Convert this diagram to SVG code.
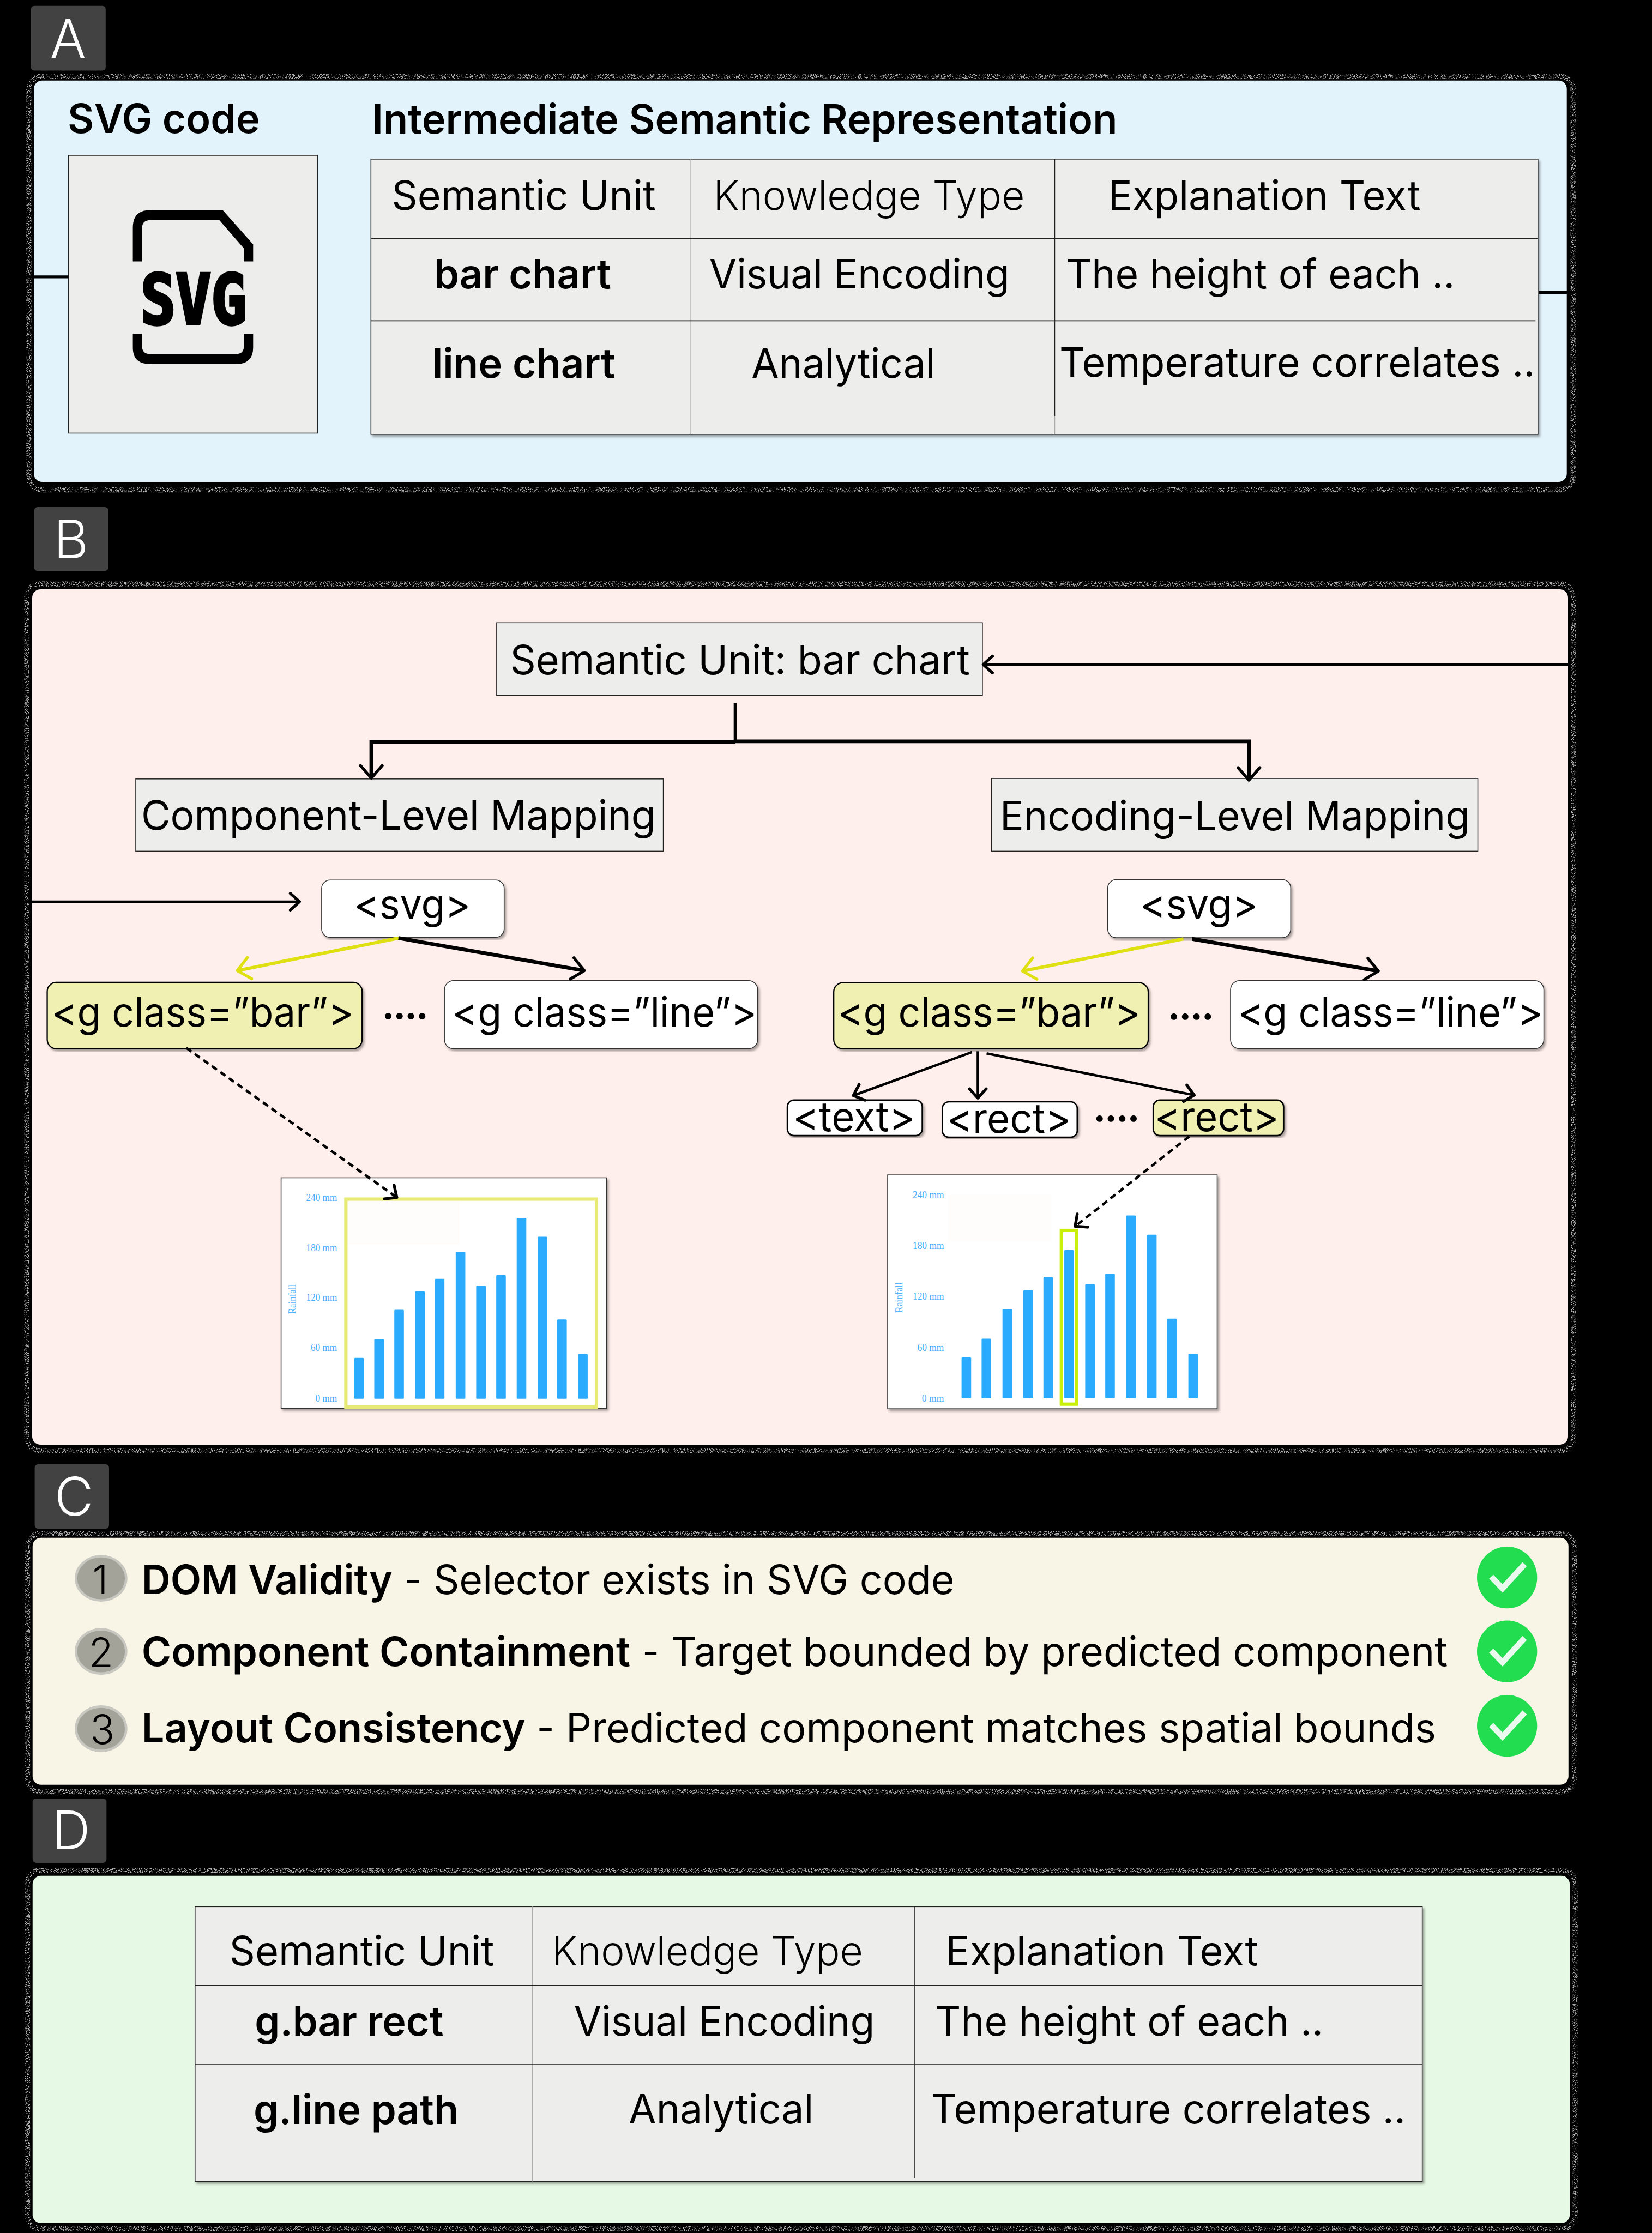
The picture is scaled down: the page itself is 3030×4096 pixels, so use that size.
<svg xmlns="http://www.w3.org/2000/svg" width="3030" height="4096" viewBox="0 0 3030 4096">
<style>
text{font-family:"Inter","Liberation Sans",sans-serif;fill:#000;font-size:97px}
.b{font-weight:600}
.l{font-weight:300}
.tag{fill:#424242}
.tagt{fill:#fff;font-size:128px;font-weight:300;text-anchor:middle}
.noise{fill:none;stroke:#aaa;stroke-width:12;filter:url(#nf)}
.box{fill:#EDEDEB;stroke:#222;stroke-width:2}
.cell{stroke:#222;stroke-width:2;fill:none}
.cellg{stroke:#aaa;stroke-width:2;fill:none}
.wn{fill:#fff;stroke:#333;stroke-width:2}
.yn{fill:#F1F0B3;stroke:#000;stroke-width:3}
.wb{fill:#fff;stroke:#000;stroke-width:3.5}
.shadow{filter:url(#sh)}
.ax{font-family:"Liberation Serif",serif;font-size:25px;fill:#45ADFF;text-anchor:end}
.rf{font-family:"Liberation Serif",serif;font-size:24px;fill:#55B4FF}
.bar{fill:#2BABFE}
.c{fill:none;stroke:#000;stroke-width:7}
.t9{stroke-width:9}
.t6{stroke-width:6}
.dash{stroke-width:6;stroke-dasharray:15 10}
.ya{fill:none;stroke:#DFE012;stroke-width:8}
.dots{font-size:92px;font-weight:700}
.num{fill:#A4A39A;stroke:#C8C7C0;stroke-width:6}
.numt{font-weight:300;text-anchor:middle}
.ok{fill:#22DD4F}
.chk{fill:none;stroke:#EAF9EE;stroke-width:14}
.m{fill:none;stroke:#000;stroke-width:7;stroke-linecap:round;stroke-linejoin:round}
</style>
<defs>
<filter id="nf" color-interpolation-filters="sRGB"><feTurbulence type="fractalNoise" baseFrequency="0.75" numOctaves="2" seed="4"/><feColorMatrix type="matrix" values="0 0 0 0 0.7 0 0 0 0 0.7 0 0 0 0 0.7 7 0 0 0 -3.6"/><feComposite in2="SourceAlpha" operator="in"/></filter>
<filter id="sh" x="-5%" y="-5%" width="110%" height="110%"><feDropShadow dx="4" dy="5" stdDeviation="3" flood-color="#000" flood-opacity="0.35"/></filter>
<marker id="big" markerUnits="userSpaceOnUse" markerWidth="80" markerHeight="80" viewBox="-70 -40 80 80" refX="0" refY="0" orient="auto"><path class="m" d="M-30,-26L0,0L-30,26"/></marker>
<marker id="small" markerUnits="userSpaceOnUse" markerWidth="80" markerHeight="80" viewBox="-70 -40 80 80" refX="0" refY="0" orient="auto"><path class="m" d="M-22,-20L0,0L-22,20"/></marker>
<marker id="yel" markerUnits="userSpaceOnUse" markerWidth="80" markerHeight="80" viewBox="-70 -40 80 80" refX="0" refY="0" orient="auto"><path class="m" style="stroke:#DFE012" d="M-30,-26L0,0L-30,26"/></marker>
</defs>
<rect width="3030" height="4096" fill="#000"/>
<g transform="scale(0.76612)">

<g id="panel-A">
<rect class="noise" x="69" y="183" width="3697" height="990" rx="30"/>
<rect x="81" y="193" width="3670" height="961" rx="20" fill="#E3F3FB"/>
<rect class="tag" x="74" y="14" width="179" height="155" rx="8"/>
<text class="tagt" x="163" y="138">A</text>
<text class="b" x="162" y="319" textLength="460" lengthAdjust="spacingAndGlyphs">SVG code</text>
<text class="b" x="891" y="320" textLength="1784" lengthAdjust="spacingAndGlyphs">Intermediate Semantic Representation</text>
</g>
<g id="svg-code">
<rect class="box" x="164" y="372" width="596" height="665"/>
<path d="M318,626V545Q318,503 360,503H533L606,585V626H584V595L525,527H360Q340,527 340,547V626Z"/>
<path d="M318,799V832Q318,872 360,872H564Q606,872 606,832V799H584V828Q584,848 564,848H360Q340,848 340,828V799Z"/>
<text x="336" y="775" style="font-family:'DejaVu Sans Mono',monospace;font-weight:700;font-size:166px;stroke:#000;stroke-width:7" textLength="254" lengthAdjust="spacingAndGlyphs">SVG</text>
</g>
<g id="table-A">
<rect class="box shadow" x="888" y="381" width="2794" height="659"/>
<path class="cellg" d="M1654,381V1040M2525,996V1040"/>
<path class="cell" d="M2525,381V996M888,571H3682M888,768H3676"/>
<text x="938" y="503" textLength="632" lengthAdjust="spacingAndGlyphs">Semantic Unit</text>
<text class="l" x="1708" y="503" textLength="745" lengthAdjust="spacingAndGlyphs">Knowledge Type</text>
<text x="2653" y="503" textLength="748" lengthAdjust="spacingAndGlyphs">Explanation Text</text>
<text class="b" x="1039" y="691" textLength="424" lengthAdjust="spacingAndGlyphs">bar chart</text>
<text x="1698" y="691" textLength="719" lengthAdjust="spacingAndGlyphs">Visual Encoding</text>
<text x="2552" y="691" textLength="931" lengthAdjust="spacingAndGlyphs">The height of each ..</text>
<text class="b" x="1035" y="905" textLength="438" lengthAdjust="spacingAndGlyphs">line chart</text>
<text x="1799" y="905" textLength="440" lengthAdjust="spacingAndGlyphs">Analytical</text>
<text x="2536" y="902" textLength="1139" lengthAdjust="spacingAndGlyphs">Temperature correlates ..</text>
</g>

<g id="panel-B">
<rect class="noise" x="64" y="1398" width="3703" height="2075" rx="30"/>
<rect x="77" y="1411" width="3677" height="2048" rx="20" fill="#FFEFEC"/>
<rect class="tag" x="82" y="1214" width="177" height="153" rx="8"/>
<text class="tagt" x="170" y="1336">B</text>
</g>
<g id="node-semantic-unit">
<rect class="box" x="1189" y="1491" width="1163" height="174"/>
<text x="1221" y="1614" textLength="1101" lengthAdjust="spacingAndGlyphs">Semantic Unit: bar chart</text>
</g>
<g id="node-component-level">
<rect class="box" x="325" y="1865" width="1263" height="173"/>
<text x="338" y="1986" textLength="1232" lengthAdjust="spacingAndGlyphs">Component-Level Mapping</text>
</g>
<g id="node-encoding-level">
<rect class="box" x="2374" y="1864" width="1164" height="174"/>
<text x="2394" y="1988" textLength="1125" lengthAdjust="spacingAndGlyphs">Encoding-Level Mapping</text>
</g>
<g id="node-svg-left">
<rect class="wn shadow" x="770" y="2107" width="437" height="137" rx="20"/>
<text x="847" y="2200" textLength="280" lengthAdjust="spacingAndGlyphs">&lt;svg&gt;</text>
</g>
<g id="node-gbar-left">
<rect class="yn shadow" x="113" y="2352" width="754" height="159" rx="22"/>
<text x="123" y="2458" textLength="724" lengthAdjust="spacingAndGlyphs">&lt;g class=”bar”&gt;</text>
</g>
<text class="dots" x="914" y="2465" textLength="112">····</text>
<g id="node-gline-left">
<rect class="wn shadow" x="1064" y="2348" width="750" height="163" rx="22"/>
<text x="1082" y="2458" textLength="730" lengthAdjust="spacingAndGlyphs">&lt;g class=”line”&gt;</text>
</g>
<g id="node-svg-right">
<rect class="wn shadow" x="2652" y="2106" width="438" height="139" rx="20"/>
<text x="2729" y="2200" textLength="283" lengthAdjust="spacingAndGlyphs">&lt;svg&gt;</text>
</g>
<g id="node-gbar-right">
<rect class="yn shadow" x="1996" y="2353" width="753" height="158" rx="22"/>
<text x="2005" y="2458" textLength="726" lengthAdjust="spacingAndGlyphs">&lt;g class=”bar”&gt;</text>
</g>
<text class="dots" x="2795" y="2466" textLength="112">····</text>
<g id="node-gline-right">
<rect class="wn shadow" x="2946" y="2348" width="750" height="163" rx="22"/>
<text x="2963" y="2458" textLength="731" lengthAdjust="spacingAndGlyphs">&lt;g class=”line”&gt;</text>
</g>
<g id="node-text">
<rect class="wb shadow" x="1885" y="2634" width="323" height="85" rx="16"/>
<text x="1898" y="2708" textLength="293" lengthAdjust="spacingAndGlyphs">&lt;text&gt;</text>
</g>
<g id="node-rect">
<rect class="wb shadow" x="2256" y="2638" width="323" height="85" rx="16"/>
<text x="2266" y="2713" textLength="299" lengthAdjust="spacingAndGlyphs">&lt;rect&gt;</text>
</g>
<text class="dots" x="2617" y="2710" textLength="112">····</text>
<g id="node-rect-yellow">
<rect class="yn shadow" style="stroke-width:3.5" x="2761" y="2634" width="312" height="85" rx="16"/>
<text x="2764" y="2708" textLength="298" lengthAdjust="spacingAndGlyphs">&lt;rect&gt;</text>
</g>

<g id="chart-left">
<rect class="wn shadow" x="673" y="2820" width="779" height="552"/>
<rect x="824" y="2867" width="276" height="113" fill="#FFFDFB"/>
<text class="ax" x="807" y="2876" textLength="74" lengthAdjust="spacingAndGlyphs">240 mm</text>
<text class="ax" x="807" y="2995" textLength="74" lengthAdjust="spacingAndGlyphs">180 mm</text>
<text class="ax" x="807" y="3115" textLength="74" lengthAdjust="spacingAndGlyphs">120 mm</text>
<text class="ax" x="807" y="3235" textLength="63" lengthAdjust="spacingAndGlyphs">60 mm</text>
<text class="ax" x="807" y="3356" textLength="52" lengthAdjust="spacingAndGlyphs">0 mm</text>
<text class="rf" transform="translate(708,3146) rotate(-90)" textLength="71" lengthAdjust="spacingAndGlyphs">Rainfall</text>
<rect class="bar" x="848" y="3251" width="23" height="98" rx="2"/>
<rect class="bar" x="896" y="3206" width="23" height="143" rx="2"/>
<rect class="bar" x="944" y="3136" width="23" height="213" rx="2"/>
<rect class="bar" x="994" y="3092" width="23" height="257" rx="2"/>
<rect class="bar" x="1041" y="3062" width="23" height="287" rx="2"/>
<rect class="bar" x="1091" y="2997" width="23" height="352" rx="2"/>
<rect class="bar" x="1140" y="3078" width="23" height="271" rx="2"/>
<rect class="bar" x="1188" y="3053" width="23" height="296" rx="2"/>
<rect class="bar" x="1237" y="2916" width="23" height="433" rx="2"/>
<rect class="bar" x="1287" y="2961" width="23" height="388" rx="2"/>
<rect class="bar" x="1334" y="3159" width="23" height="190" rx="2"/>
<rect class="bar" x="1384" y="3242" width="23" height="107" rx="2"/>
<rect x="828" y="2871" width="600" height="498" fill="none" stroke="#E7EA75" stroke-width="8"/>
</g>
<g id="chart-right">
<rect class="wn shadow" x="2125" y="2813" width="789" height="560"/>
<rect x="2270" y="2860" width="248" height="112" fill="#FFFDFB"/>
<text class="ax" x="2260" y="2869" textLength="75" lengthAdjust="spacingAndGlyphs">240 mm</text>
<text class="ax" x="2260" y="2991" textLength="75" lengthAdjust="spacingAndGlyphs">180 mm</text>
<text class="ax" x="2260" y="3112" textLength="75" lengthAdjust="spacingAndGlyphs">120 mm</text>
<text class="ax" x="2260" y="3234" textLength="64" lengthAdjust="spacingAndGlyphs">60 mm</text>
<text class="ax" x="2260" y="3356" textLength="53" lengthAdjust="spacingAndGlyphs">0 mm</text>
<text class="rf" transform="translate(2160,3143) rotate(-90)" textLength="73" lengthAdjust="spacingAndGlyphs">Rainfall</text>
<rect class="bar" x="2302" y="3250" width="23" height="98" rx="2"/>
<rect class="bar" x="2350" y="3205" width="23" height="143" rx="2"/>
<rect class="bar" x="2400" y="3134" width="23" height="214" rx="2"/>
<rect class="bar" x="2450" y="3089" width="23" height="259" rx="2"/>
<rect class="bar" x="2498" y="3058" width="23" height="290" rx="2"/>
<rect class="bar" x="2548" y="2993" width="23" height="355" rx="2"/>
<rect class="bar" x="2598" y="3075" width="23" height="273" rx="2"/>
<rect class="bar" x="2646" y="3049" width="23" height="299" rx="2"/>
<rect class="bar" x="2696" y="2910" width="23" height="438" rx="2"/>
<rect class="bar" x="2746" y="2956" width="23" height="392" rx="2"/>
<rect class="bar" x="2794" y="3157" width="23" height="191" rx="2"/>
<rect class="bar" x="2845" y="3241" width="23" height="107" rx="2"/>
<rect x="2541" y="2946" width="36" height="416" fill="none" stroke="#C9F00A" stroke-width="8"/>
</g>

<g id="panel-C">
<rect class="noise" x="66" y="3672" width="3703" height="618" rx="30"/>
<rect x="78" y="3682" width="3677" height="591" rx="20" fill="#F8F5E6"/>
<rect class="tag" x="83" y="3506" width="178" height="154" rx="8"/>
<text class="tagt" x="177" y="3629">C</text>
</g>
<g id="check-1">
<ellipse class="num" cx="242" cy="3779" rx="60" ry="53"/>
<text class="numt" x="240" y="3816">1</text>
<text class="b" x="339" y="3816" textLength="601" lengthAdjust="spacingAndGlyphs">DOM Validity</text>
<text x="968" y="3817" textLength="41" lengthAdjust="spacingAndGlyphs">-</text>
<text x="1038" y="3817" textLength="1247" lengthAdjust="spacingAndGlyphs">Selector exists in SVG code</text>
<ellipse class="ok" cx="3608" cy="3777" rx="72" ry="74"/>
<path class="chk" d="M3570,3775L3597,3803L3650,3745"/>
</g>
<g id="check-2">
<ellipse class="num" cx="242" cy="3954" rx="60" ry="53"/>
<text class="numt" x="242" y="3991">2</text>
<text class="b" x="339" y="3989" textLength="1170" lengthAdjust="spacingAndGlyphs">Component Containment</text>
<text x="1538" y="3989" textLength="40" lengthAdjust="spacingAndGlyphs">-</text>
<text x="1606" y="3989" textLength="1860" lengthAdjust="spacingAndGlyphs">Target bounded by predicted component</text>
<ellipse class="ok" cx="3608" cy="3954" rx="72" ry="74"/>
<path class="chk" d="M3570,3952L3597,3980L3650,3922"/>
</g>
<g id="check-3">
<ellipse class="num" cx="242" cy="4139" rx="60" ry="53"/>
<text class="numt" x="245" y="4176">3</text>
<text class="b" x="339" y="4172" textLength="919" lengthAdjust="spacingAndGlyphs">Layout Consistency</text>
<text x="1285" y="4172" textLength="42" lengthAdjust="spacingAndGlyphs">-</text>
<text x="1355" y="4172" textLength="2083" lengthAdjust="spacingAndGlyphs">Predicted component matches spatial bounds</text>
<ellipse class="ok" cx="3608" cy="4132" rx="72" ry="74"/>
<path class="chk" d="M3570,4130L3597,4158L3650,4100"/>
</g>

<g id="panel-D">
<rect class="noise" x="66" y="4478" width="3705" height="858" rx="30"/>
<rect x="78" y="4491" width="3680" height="832" rx="20" fill="#E6F9E4"/>
<rect class="tag" x="78" y="4306" width="177" height="154" rx="8"/>
<text class="tagt" x="170" y="4428">D</text>
</g>
<g id="table-D">
<rect class="box shadow" x="467" y="4565" width="2938" height="658"/>
<path class="cellg" d="M1275,4565V5223"/>
<path class="cell" d="M2189,4565V5216M467,4754H3405M467,4943H3405"/>
<text x="549" y="4705" textLength="634" lengthAdjust="spacingAndGlyphs">Semantic Unit</text>
<text class="l" x="1321" y="4705" textLength="745" lengthAdjust="spacingAndGlyphs">Knowledge Type</text>
<text x="2264" y="4705" textLength="748" lengthAdjust="spacingAndGlyphs">Explanation Text</text>
<text class="b" x="610" y="4874" textLength="452" lengthAdjust="spacingAndGlyphs">g.bar rect</text>
<text x="1374" y="4874" textLength="720" lengthAdjust="spacingAndGlyphs">Visual Encoding</text>
<text x="2239" y="4874" textLength="929" lengthAdjust="spacingAndGlyphs">The height of each ..</text>
<text class="b" x="607" y="5086" textLength="491" lengthAdjust="spacingAndGlyphs">g.line path</text>
<text x="1505" y="5084" textLength="443" lengthAdjust="spacingAndGlyphs">Analytical</text>
<text x="2229" y="5084" textLength="1136" lengthAdjust="spacingAndGlyphs">Temperature correlates ..</text>
</g>

<g id="connectors">
<path class="c" d="M66,663H164"/>
<path class="c" d="M3684,700H3770"/>
<path class="c t6" marker-end="url(#small)" d="M3754,1591H2354"/>
<path class="c" d="M1760,1683V1776"/>
<path class="c t9" marker-end="url(#big)" d="M1760,1776H889V1863"/>
<path class="c t9" marker-end="url(#big)" d="M1760,1775H2990V1868"/>
<path class="c t6" marker-end="url(#small)" d="M60,2159H717"/>
<path class="ya" marker-end="url(#yel)" d="M954,2246L568,2324"/>
<path class="c t9" marker-end="url(#big)" d="M954,2246L1399,2324"/>
<path class="ya" marker-end="url(#yel)" d="M2833,2248L2448,2325"/>
<path class="c t9" marker-end="url(#big)" d="M2854,2248L3300,2325"/>
<path class="c t6" marker-end="url(#small)" d="M2327,2519L2043,2623"/>
<path class="c t6" marker-end="url(#small)" d="M2341,2517V2629"/>
<path class="c t6" marker-end="url(#small)" d="M2362,2522L2859,2622"/>
<path class="c dash" marker-end="url(#small)" d="M446,2509L950,2867"/>
<path class="c dash" marker-end="url(#small)" d="M2847,2721L2574,2936"/>
</g>
</g>
</svg>
